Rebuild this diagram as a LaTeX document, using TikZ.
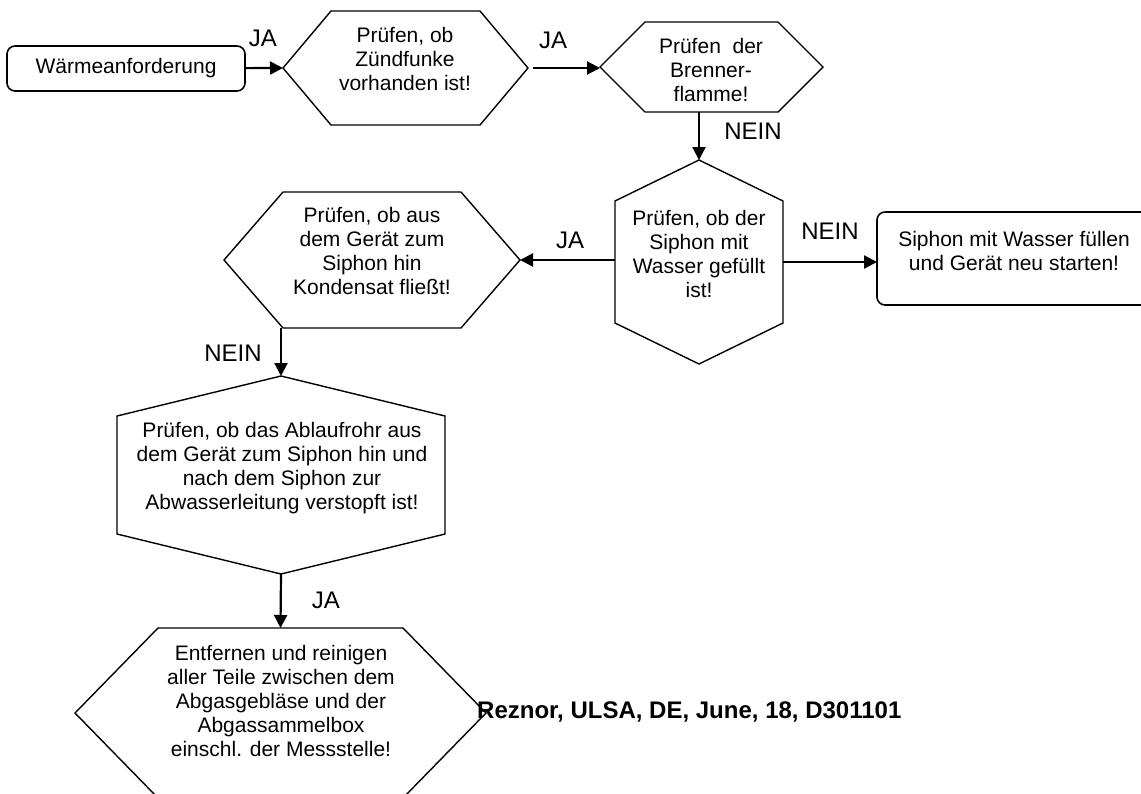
\documentclass[tikz,border=0pt]{standalone}
\usepackage{fontspec}
\setmainfont{Liberation Sans}
\usepackage{tikz}
\usetikzlibrary{arrows.meta}
\newcommand{\hexh}[2]{\draw[hexline] (#1.west) -- ([xshift=#2]#1.north west) -- ([xshift=-#2]#1.north east) -- (#1.east) -- ([xshift=-#2]#1.south east) -- ([xshift=#2]#1.south west) -- cycle;}
\newcommand{\hexv}[2]{\draw[hexline] (#1.north) -- ([yshift=-#2]#1.north east) -- ([yshift=#2]#1.south east) -- (#1.south) -- ([yshift=#2]#1.south west) -- ([yshift=-#2]#1.north west) -- cycle;}
\tikzstyle{hexline} = [draw, line width=1.4pt, line join=miter]
\tikzstyle{frame} = [inner sep=0pt, outer sep=0pt]
\tikzstyle{box} = [draw, line width=1.6pt, rounded corners=8pt, inner sep=0pt, outer sep=0pt]
\tikzstyle{txt} = [align=center, inner sep=0pt, font=\fontsize{21}{24}\selectfont]
\tikzstyle{lbl} = [inner sep=0pt, font=\fontsize{24}{28}\selectfont]
\tikzstyle{pfeil} = [line width=2.2pt, -{Triangle[length=13pt,width=13pt]}]

\begin{document}
\begin{tikzpicture}[x=1pt,y=-1pt]
			\useasboundingbox (0,0) rectangle (1141,793);
			\clip (0,0) rectangle (1141,793);
			\node[box, txt, minimum width=238pt, minimum height=45pt] (waerme) at (126,68.5) {Wärmeanforderung};
			\node[frame, minimum width=245pt, minimum height=114pt] (zuend) at (405.5,68) {};
			\hexh{zuend}{48pt}
			\node[txt] (zuend-t) at (405,58.5) {Prüfen, ob\\Zündfunke\\vorhanden ist!};
			\node[frame, minimum width=223pt, minimum height=90pt] (brenner) at (711.5,67) {};
			\hexh{brenner}{45pt}
			\node[txt] (brenner-t) at (711,69.5) {Prüfen\ \ der\\Brenner-\\flamme!};
			\node[frame, minimum width=168pt, minimum height=204pt] (siphon) at (699,262) {};
			\hexv{siphon}{41pt}
			\node[txt] (siphon-t) at (699,253.5) {Prüfen, ob der\\Siphon mit\\Wasser gefüllt\\ist!};
			\node[box, minimum width=274pt, minimum height=93pt] (fuellen) at (1014,258.5) {};
			\node[txt] (fuellen-t) at (1014,250.5) {Siphon mit Wasser füllen\\und Gerät neu starten!};
			\node[frame, minimum width=296pt, minimum height=136pt] (kondensat) at (372,260) {};
			\hexh{kondensat}{59pt}
			\node[txt] (kondensat-t) at (372,251) {Prüfen, ob aus\\dem Gerät zum\\Siphon hin\\Kondensat fließt!};
			\node[frame, minimum width=328pt, minimum height=198pt] (ablauf) at (281,475) {};
			\hexv{ablauf}{40pt}
			\node[txt] (ablauf-t) at (282,468.5) {Prüfen, ob das Ablaufrohr aus\\dem Gerät zum Siphon hin und\\nach dem Siphon zur\\Abwasserleitung verstopft ist!};
			\node[frame, minimum width=411pt, minimum height=170pt] (teile) at (280.5,713) {};
			\hexh{teile}{83pt}
			\node[txt] (teile-t) at (281,701) {Entfernen und reinigen\\aller Teile zwischen dem\\Abgasgebläse und der\\Abgassammelbox\\einschl. der Messstelle!};
			\node[anchor=west, inner sep=0pt, font=\fontsize{24}{28}\selectfont\bfseries] (stand) at (477,712) {Reznor, ULSA, DE, June, 18, D301101};
			\node[lbl] (ja1) at (263,38) {JA};
			\node[lbl] (ja2) at (553,40) {JA};
			\node[lbl] (nein1) at (753,131) {NEIN};
			\node[lbl] (nein2) at (830,231) {NEIN};
			\node[lbl] (ja3) at (570,240) {JA};
			\node[lbl] (nein3) at (233,353) {NEIN};
			\node[lbl] (ja4) at (326,600) {JA};
			\draw[pfeil] (waerme) -- (zuend.west);
			\draw[pfeil] ([xshift=5pt]zuend.east) -- (zuend.east -| brenner.west);
			\draw[pfeil] (brenner.south -| siphon.north) -- (siphon.north);
			\draw[pfeil] (siphon.east) -- (siphon.east -| fuellen.west);
			\draw[pfeil] (kondensat.east -| siphon.west) -- (kondensat.east);
			\draw[pfeil] (kondensat.south -| ablauf.north) -- (ablauf.north);
			\draw[pfeil] (ablauf.south) -- (teile.north);
		\end{tikzpicture}
\end{document}
